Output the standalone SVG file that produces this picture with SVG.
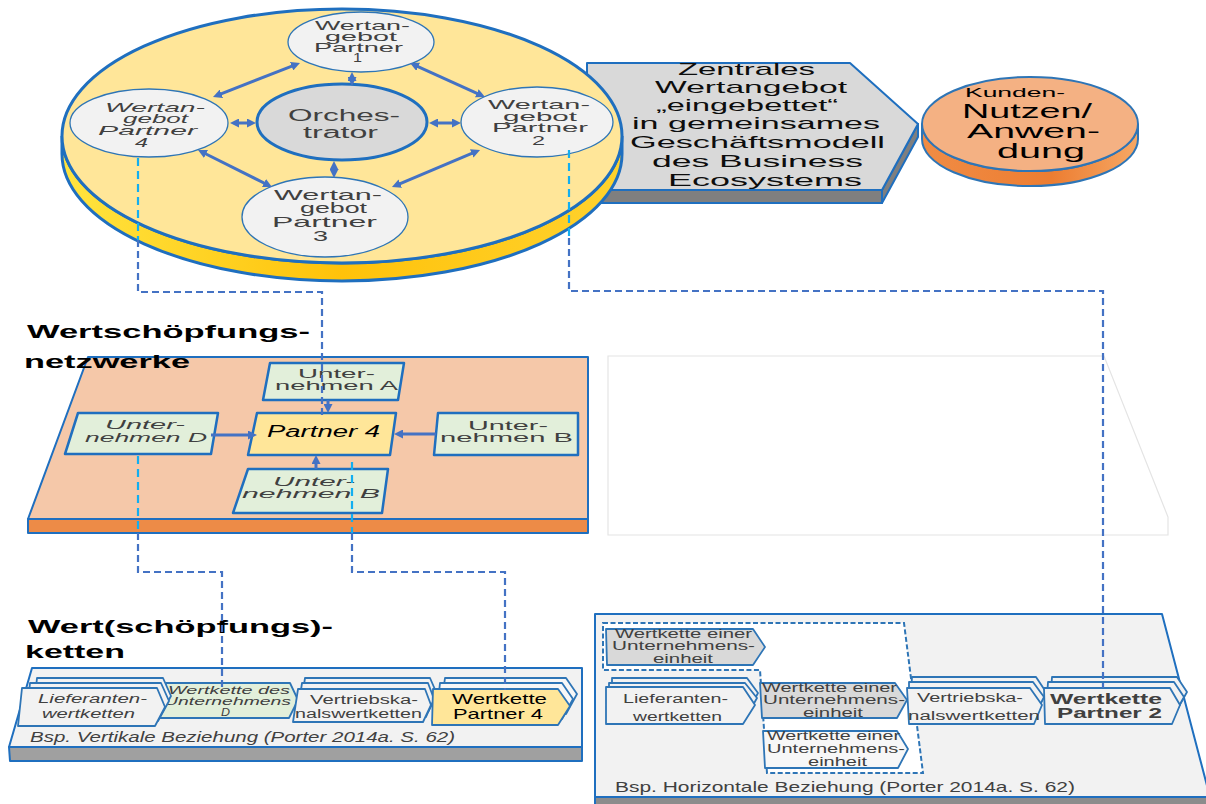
<svg xmlns="http://www.w3.org/2000/svg" width="1206" height="804" viewBox="0 0 1206 804">
  <defs>
    <style>
      text { font-family: "Liberation Sans", Arial, sans-serif; }
      .el { font-size: 13px; fill: #404040; }
      .hx { font-size: 17px; fill: #0d0d0d; }
      .ttl { font-size: 19px; font-weight: bold; fill: #000; }
      .bx { font-size: 13px; fill: #404040; }
      .ch { font-size: 12.5px; fill: #404040; }
      .it { font-style: italic; }
      .face { stroke: #1f6fbf; stroke-width: 2; stroke-linejoin: round; }
      .pelli { fill: #f2f2f2; stroke: #2e75b6; stroke-width: 1.3; }
      .gbox { fill: #e2efda; stroke: #1f6fbf; stroke-width: 2.5; stroke-linejoin: round; }
      .chev { stroke: #2e75b6; stroke-width: 1.8; stroke-linejoin: round; }
      .arr2 { stroke: #4472c4; stroke-width: 3; fill: none; marker-start: url(#ah); marker-end: url(#ah); }
      .arr1 { stroke: #4472c4; stroke-width: 3; fill: none; marker-end: url(#ah); }
      .dblue { stroke: #4472c4; stroke-width: 2.2; fill: none; stroke-dasharray: 7 4; }
      .dcyan { stroke: #12aef0; stroke-width: 2.2; fill: none; stroke-dasharray: 8 5; }
    </style>
    <marker id="ah" viewBox="0 0 10 10" refX="5" refY="5" markerWidth="3" markerHeight="3" orient="auto-start-reverse" markerUnits="strokeWidth">
      <path d="M0,0 L10,5 L0,10 z" fill="#4472c4"/>
    </marker>
    <linearGradient id="discSide" x1="0" y1="0" x2="1" y2="0">
      <stop offset="0" stop-color="#ffe43f"/>
      <stop offset="0.5" stop-color="#ffc20a"/>
      <stop offset="1" stop-color="#ffd22e"/>
    </linearGradient>
    <linearGradient id="orangeSide" x1="0" y1="0" x2="1" y2="0">
      <stop offset="0" stop-color="#f08c45"/>
      <stop offset="0.6" stop-color="#ed7d31"/>
      <stop offset="1" stop-color="#f6a865"/>
    </linearGradient>
  </defs>

  <rect width="1206" height="804" fill="#ffffff"/>

  <!-- central value proposition (grey hexagonal slab) -->
  <g id="zentrales-wertangebot">
    <polygon points="587,190 882,190 882,203 587,203" fill="#7f7f7f" class="face"/>
    <polygon points="882,190 918,124 918,137 882,203" fill="#7f7f7f" class="face"/>
    <polygon points="587,63 850,63 918,124 882,190 587,190" fill="#d9d9d9" class="face"/>
    <text class="hx" x="678" y="75" textLength="137" lengthAdjust="spacingAndGlyphs">Zentrales</text>
    <text class="hx" x="655" y="93" textLength="192" lengthAdjust="spacingAndGlyphs">Wertangebot</text>
    <text class="hx" x="656" y="111" textLength="182" lengthAdjust="spacingAndGlyphs">„eingebettet“</text>
    <text class="hx" x="632" y="129" textLength="248" lengthAdjust="spacingAndGlyphs">in gemeinsames</text>
    <text class="hx" x="630" y="148" textLength="255" lengthAdjust="spacingAndGlyphs">Geschäftsmodell</text>
    <text class="hx" x="652" y="167" textLength="211" lengthAdjust="spacingAndGlyphs">des Business</text>
    <text class="hx" x="668" y="186" textLength="194" lengthAdjust="spacingAndGlyphs">Ecosystems</text>
  </g>

  <!-- business ecosystem platform (yellow disc) -->
  <g id="ecosystem-disc">
    <path d="M62,136 A280,127 0 0 0 622,136 L622,154 A280,127 0 0 1 62,154 Z" fill="url(#discSide)" stroke="#1f6fbf" stroke-width="3"/>
    <ellipse cx="342" cy="136" rx="280" ry="127" fill="#ffe699" stroke="#1f6fbf" stroke-width="3"/>
  </g>

  <g id="partner-1">
    <ellipse cx="361" cy="42" rx="73" ry="30" class="pelli"/>
    <text class="el" x="315" y="30" textLength="95" lengthAdjust="spacingAndGlyphs">Wertan-</text>
    <text class="el" x="325" y="41" textLength="72" lengthAdjust="spacingAndGlyphs">gebot</text>
    <text class="el" x="314" y="51.5" textLength="89" lengthAdjust="spacingAndGlyphs">Partner</text>
    <text class="el" x="353" y="62" textLength="9" lengthAdjust="spacingAndGlyphs">1</text>
  </g>

  <g id="partner-2">
    <ellipse cx="537" cy="122" rx="76" ry="35" class="pelli"/>
    <text class="el" x="488" y="109" textLength="102" lengthAdjust="spacingAndGlyphs">Wertan-</text>
    <text class="el" x="503" y="120.5" textLength="74" lengthAdjust="spacingAndGlyphs">gebot</text>
    <text class="el" x="492" y="132" textLength="96" lengthAdjust="spacingAndGlyphs">Partner</text>
    <text class="el" x="532" y="145" textLength="13" lengthAdjust="spacingAndGlyphs">2</text>
  </g>

  <g id="partner-4">
    <ellipse cx="149" cy="123" rx="79" ry="34" class="pelli"/>
    <text class="el it" x="105" y="112" textLength="100" lengthAdjust="spacingAndGlyphs">Wertan-</text>
    <text class="el it" x="123" y="123" textLength="65" lengthAdjust="spacingAndGlyphs">gebot</text>
    <text class="el it" x="98" y="134.5" textLength="99" lengthAdjust="spacingAndGlyphs">Partner</text>
    <text class="el it" x="135" y="146.5" textLength="13" lengthAdjust="spacingAndGlyphs">4</text>
  </g>

  <g id="partner-3">
    <ellipse cx="325" cy="217" rx="83" ry="40" class="pelli"/>
    <text class="el" style="font-size:15px" x="274" y="200" textLength="108" lengthAdjust="spacingAndGlyphs">Wertan-</text>
    <text class="el" style="font-size:15px" x="300" y="213" textLength="67" lengthAdjust="spacingAndGlyphs">gebot</text>
    <text class="el" style="font-size:15px" x="272" y="227" textLength="105" lengthAdjust="spacingAndGlyphs">Partner</text>
    <text class="el" style="font-size:15px" x="313" y="241" textLength="15" lengthAdjust="spacingAndGlyphs">3</text>
  </g>

  <g id="orchestrator">
    <ellipse cx="342" cy="122" rx="85" ry="38" fill="#d9d9d9" stroke="#1f6fbf" stroke-width="3"/>
    <text class="el" style="font-size:16px" x="288" y="121" textLength="112" lengthAdjust="spacingAndGlyphs">Orches-</text>
    <text class="el" style="font-size:16px" x="303" y="138" textLength="75" lengthAdjust="spacingAndGlyphs">trator</text>
  </g>

  <!-- customer benefit disc -->
  <g id="kunden-nutzen">
    <path d="M922,124 A108,47 0 0 0 1138,124 L1138,139 A108,47 0 0 1 922,139 Z" fill="url(#orangeSide)" stroke="#2e75b6" stroke-width="2"/>
    <ellipse cx="1030" cy="124" rx="108" ry="47" fill="#f4b183" stroke="#2e75b6" stroke-width="2"/>
    <text style="font-size:13px" x="965" y="97" textLength="100" lengthAdjust="spacingAndGlyphs">Kunden-</text>
    <text style="font-size:20px" x="962" y="118" textLength="130" lengthAdjust="spacingAndGlyphs">Nutzen/</text>
    <text style="font-size:20px" x="967" y="138" textLength="133" lengthAdjust="spacingAndGlyphs">Anwen-</text>
    <text style="font-size:20px" x="997" y="158" textLength="88" lengthAdjust="spacingAndGlyphs">dung</text>
  </g>

  <!-- value creation network layer -->
  <g id="netzwerk-ebene">
    <polygon points="28,519 588,519 588,533 28,533" fill="#ed8b47" class="face"/>
    <polygon points="88,357 588,357 588,519 28,519" fill="#f5c8a9" class="face"/>
    <text class="ttl" x="27" y="338" textLength="283" lengthAdjust="spacingAndGlyphs">Wertschöpfungs-</text>
    <text class="ttl" x="24" y="368" textLength="166" lengthAdjust="spacingAndGlyphs">netzwerke</text>
  </g>

  <g id="unternehmen-a">
    <polygon points="270,363 404,363 398,400 263,400" class="gbox"/>
    <text class="bx" x="298" y="378" textLength="77" lengthAdjust="spacingAndGlyphs">Unter-</text>
    <text class="bx" x="275" y="390" textLength="123" lengthAdjust="spacingAndGlyphs">nehmen A</text>
  </g>

  <g id="unternehmen-d">
    <polygon points="78,413 218,413 211,454 65,454" class="gbox"/>
    <text class="bx it" x="105" y="429" textLength="80" lengthAdjust="spacingAndGlyphs">Unter-</text>
    <text class="bx it" x="85" y="442" textLength="122" lengthAdjust="spacingAndGlyphs">nehmen D</text>
  </g>

  <g id="unternehmen-b-rechts">
    <polygon points="438,413 578,413 578,455 434,455" class="gbox"/>
    <text class="bx" x="468" y="430" textLength="80" lengthAdjust="spacingAndGlyphs">Unter-</text>
    <text class="bx" x="440" y="442" textLength="133" lengthAdjust="spacingAndGlyphs">nehmen B</text>
  </g>

  <g id="unternehmen-b-unten">
    <polygon points="248,469 388,469 382,513 233,513" class="gbox"/>
    <text class="bx it" x="273" y="486" textLength="82" lengthAdjust="spacingAndGlyphs">Unter-</text>
    <text class="bx it" x="242" y="498" textLength="138" lengthAdjust="spacingAndGlyphs">nehmen B</text>
  </g>

  <g id="partner-4-netzwerk">
    <polygon points="257,413 396,413 390,455 248,455" fill="#ffe699" stroke="#1f6fbf" stroke-width="2.5" stroke-linejoin="round"/>
    <text class="it" style="font-size:16px;fill:#000" x="267" y="437" textLength="113" lengthAdjust="spacingAndGlyphs">Partner 4</text>
  </g>

  <!-- empty white layer on the right -->
  <g id="leere-ebene">
    <polygon points="608,356 1104,356 1168,517 1168,535 608,535" fill="#ffffff" stroke="#e4e4e4" stroke-width="1.2"/>
  </g>

  <!-- vertical value chain panel -->
  <g id="vertikale-beziehung">
    <polygon points="9,747 582,747 582,761 10,761" fill="#a0a0a0" class="face"/>
    <polygon points="32,668 582,668 582,747 9,747" fill="#f2f2f2" class="face"/>
    <text class="ttl" x="28" y="633" textLength="305" lengthAdjust="spacingAndGlyphs">Wert(schöpfungs)-</text>
    <text class="ttl" x="25" y="658" textLength="100" lengthAdjust="spacingAndGlyphs">ketten</text>
    <text class="it" style="font-size:14px;fill:#404040" x="30" y="742" textLength="425" lengthAdjust="spacingAndGlyphs">Bsp. Vertikale Beziehung (Porter 2014a. S. 62)</text>
  </g>

  <g id="wertkette-unternehmen-d">
    <polygon points="166,683 290,683 298,700 289,718 157,718" fill="#e2efda" class="chev"/>
    <text class="ch it" style="font-size:11.5px" x="168" y="694" textLength="122" lengthAdjust="spacingAndGlyphs">Wertkette des</text>
    <text class="ch it" style="font-size:11.5px" x="164" y="705" textLength="127" lengthAdjust="spacingAndGlyphs">Unternehmens</text>
    <text class="ch it" style="font-size:11.5px" x="221" y="715.5" textLength="9" lengthAdjust="spacingAndGlyphs">D</text>
  </g>

  <g id="lieferantenwertketten-v">
    <polygon points="37,678 163,678 171,696 160,716 33,716" fill="#f2f2f2" class="chev"/>
    <polygon points="30,683 161,683 169,701 158,721 26,721" fill="#f2f2f2" class="chev"/>
    <polygon points="22,688 157,688 165,707 155,726 18,726" fill="#f2f2f2" class="chev"/>
    <text class="ch it" x="38" y="703" textLength="109" lengthAdjust="spacingAndGlyphs">Lieferanten-</text>
    <text class="ch it" x="42" y="718" textLength="93" lengthAdjust="spacingAndGlyphs">wertketten</text>
  </g>

  <g id="vertriebskanalswertketten-v">
    <polygon points="305,678 430,678 437,694 428,712 300,712" fill="#f2f2f2" class="chev"/>
    <polygon points="302,683 428,683 434,699 426,717 297,717" fill="#f2f2f2" class="chev"/>
    <polygon points="298,689 425,689 431,705 423,722 293,722" fill="#f2f2f2" class="chev"/>
    <text class="ch" x="310" y="704" textLength="108" lengthAdjust="spacingAndGlyphs">Vertriebska-</text>
    <text class="ch" x="295" y="718" textLength="127" lengthAdjust="spacingAndGlyphs">nalswertketten</text>
  </g>

  <g id="wertkette-partner-4">
    <polygon points="445,678 566,678 577,694 566,714 440,714" fill="#f7f7f7" class="chev"/>
    <polygon points="440,683 562,683 573,699 562,719 436,719" fill="#f7f7f7" class="chev"/>
    <polygon points="433,689 558,689 570,706 558,725 432,725" fill="#ffe699" class="chev"/>
    <text style="font-size:15px;fill:#000" x="452" y="704" textLength="95" lengthAdjust="spacingAndGlyphs">Wertkette</text>
    <text style="font-size:15px;fill:#000" x="453" y="719" textLength="90" lengthAdjust="spacingAndGlyphs">Partner 4</text>
  </g>

  <!-- horizontal value chain panel -->
  <g id="horizontale-beziehung">
    <polygon points="595,797 1212,797 1212,812 595,812" fill="#8c8c8c" class="face"/>
    <polygon points="595,614 1162,614 1210,797 595,797" fill="#f2f2f2" class="face"/>
    <text style="font-size:15px;fill:#404040" x="615" y="792" textLength="460" lengthAdjust="spacingAndGlyphs">Bsp. Horizontale Beziehung (Porter 2014a. S. 62)</text>
    <polygon points="603,623 904,623 923,773 767,773 760,670 603,670" fill="#ffffff" stroke="#2e75b6" stroke-width="2" stroke-dasharray="5 2.5"/>
  </g>

  <g id="unternehmenseinheit-oben">
    <polygon points="606,629 753,629 765,647 753,665 607,665" fill="#d9d9d9" class="chev"/>
    <text class="ch" x="615" y="638" textLength="137" lengthAdjust="spacingAndGlyphs">Wertkette einer</text>
    <text class="ch" x="612" y="650" textLength="143" lengthAdjust="spacingAndGlyphs">Unternehmens-</text>
    <text class="ch" x="653" y="663" textLength="60" lengthAdjust="spacingAndGlyphs">einheit</text>
  </g>

  <g id="unternehmenseinheit-mitte">
    <polygon points="760,683 895,683 907,700 897,718 762,718" fill="#d9d9d9" class="chev"/>
    <text class="ch" x="762" y="692" textLength="135" lengthAdjust="spacingAndGlyphs">Wertkette einer</text>
    <text class="ch" x="763" y="704" textLength="142" lengthAdjust="spacingAndGlyphs">Unternehmens-</text>
    <text class="ch" x="803" y="717" textLength="60" lengthAdjust="spacingAndGlyphs">einheit</text>
  </g>

  <g id="unternehmenseinheit-unten">
    <polygon points="763,731 897,731 908,749 898,768 765,768" fill="#f7f7f7" class="chev"/>
    <text class="ch" x="767" y="740" textLength="133" lengthAdjust="spacingAndGlyphs">Wertkette einer</text>
    <text class="ch" x="767" y="753" textLength="138" lengthAdjust="spacingAndGlyphs">Unternehmens-</text>
    <text class="ch" x="808" y="766" textLength="59" lengthAdjust="spacingAndGlyphs">einheit</text>
  </g>

  <g id="lieferantenwertketten-h">
    <polygon points="612,678 747,678 758,693 750,708 612,708" fill="#f2f2f2" class="chev"/>
    <polygon points="609,683 745,683 757,698 748,714 609,714" fill="#f2f2f2" class="chev"/>
    <polygon points="606,687 743,687 755,705 743,724 606,724" fill="#f2f2f2" class="chev"/>
    <text class="ch" x="623" y="703" textLength="105" lengthAdjust="spacingAndGlyphs">Lieferanten-</text>
    <text class="ch" x="633" y="721" textLength="89" lengthAdjust="spacingAndGlyphs">wertketten</text>
  </g>

  <g id="vertriebskanalswertketten-h">
    <polygon points="912,677 1036,677 1046,692 1038,708 910,708" fill="#f2f2f2" class="chev"/>
    <polygon points="909,682 1033,682 1044,697 1036,713 909,713" fill="#f2f2f2" class="chev"/>
    <polygon points="907,688 1030,688 1042,705 1034,724 909,724" fill="#f2f2f2" class="chev"/>
    <text class="ch" x="917" y="702" textLength="106" lengthAdjust="spacingAndGlyphs">Vertriebska-</text>
    <text class="ch" x="908" y="720" textLength="132" lengthAdjust="spacingAndGlyphs">nalswertketten</text>
  </g>

  <g id="wertkette-partner-2">
    <polygon points="1052,677 1177,677 1187,692 1178,708 1050,708" fill="#f2f2f2" class="chev"/>
    <polygon points="1048,682 1174,682 1184,697 1175,713 1046,713" fill="#f2f2f2" class="chev"/>
    <polygon points="1044,688 1170,688 1180,705 1172,724 1045,724" fill="#f2f2f2" class="chev"/>
    <text style="font-size:14px;font-weight:bold;fill:#404040" x="1050" y="704" textLength="112" lengthAdjust="spacingAndGlyphs">Wertkette</text>
    <text style="font-size:14px;font-weight:bold;fill:#404040" x="1057" y="718" textLength="105" lengthAdjust="spacingAndGlyphs">Partner 2</text>
  </g>

  <!-- connectors -->
  <g id="connectors">
    <!-- exchange arrows inside the ecosystem -->
    <line class="arr2" x1="217.2" y1="95.4" x2="295.8" y2="64.6"/>
    <line class="arr2" x1="414.1" y1="64.9" x2="480.9" y2="95.1"/>
    <line class="arr2" x1="475.9" y1="151.7" x2="396.1" y2="185.3"/>
    <line class="arr2" x1="202" y1="152" x2="268" y2="185"/>
    <line class="arr2" x1="352" y1="76.5" x2="352" y2="81.5"/>
    <line class="arr2" x1="334" y1="165.5" x2="334" y2="173.5"/>
    <line class="arr2" x1="234.5" y1="123" x2="251.5" y2="123"/>
    <line class="arr2" x1="433.5" y1="123" x2="456.5" y2="123"/>

    <!-- network arrows into Partner 4 -->
    <line class="arr1" x1="211" y1="435" x2="252.5" y2="435"/>
    <line class="arr1" x1="436" y1="434" x2="398.5" y2="434"/>
    <line class="arr1" x1="328" y1="400" x2="328" y2="408.5"/>
    <line class="arr1" x1="316" y1="469" x2="316" y2="459.5"/>

    <!-- dashed level links -->
    <line class="dcyan" x1="138" y1="158" x2="138" y2="240"/>
    <polyline class="dblue" points="138,240 138,292 322,292 322,416"/>
    <line class="dcyan" x1="569" y1="150" x2="569" y2="238"/>
    <polyline class="dblue" points="569,238 569,291 1103,291 1103,688"/>
    <line class="dcyan" x1="138" y1="456" x2="138" y2="533"/>
    <polyline class="dblue" points="138,533 138,572 222,572 222,690"/>
    <line class="dcyan" x1="352" y1="462" x2="352" y2="533"/>
    <polyline class="dblue" points="352,533 352,572 505,572 505,690"/>
  </g>
</svg>
